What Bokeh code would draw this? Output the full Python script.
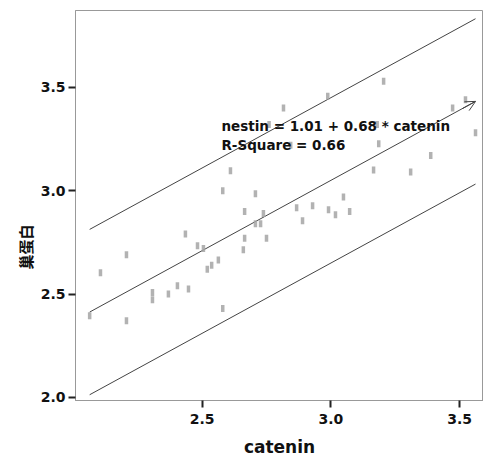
from bokeh.plotting import figure
from bokeh.models import Range1d, Label, Title, Arrow, OpenHead, FixedTicker, PrintfTickFormatter
from bokeh.embed import file_html
from bokeh.resources import INLINE

catenin = [2.063, 2.105, 2.206, 2.206, 2.307, 2.307, 2.369, 2.404, 2.447, 2.435,
           2.482, 2.505, 2.520, 2.537, 2.563, 2.580, 2.580, 2.610, 2.660, 2.665,
           2.665, 2.707, 2.707, 2.727, 2.738, 2.750, 2.867, 2.890, 2.929, 2.991,
           3.018, 3.049, 3.073, 3.166, 3.186, 3.310, 3.388, 3.562, 2.816, 2.988,
           3.205, 3.473, 3.523, 2.760, 3.180, 2.844]
nestin = [2.395, 2.603, 2.690, 2.371, 2.507, 2.473, 2.500, 2.540, 2.525, 2.790,
          2.734, 2.720, 2.620, 2.640, 2.665, 2.430, 3.000, 3.097, 2.715, 2.770,
          2.900, 2.985, 2.840, 2.840, 2.890, 2.770, 2.918, 2.855, 2.927, 2.908,
          2.884, 2.970, 2.900, 3.100, 3.227, 3.090, 3.170, 3.280, 3.400, 3.457,
          3.530, 3.400, 3.440, 3.320, 3.320, 3.220]

intercept = 1.01
slope = 0.68
r_square = 0.66
interval_half = 0.40

x_ticks = [2.5, 3.0, 3.5]
y_ticks = [2.0, 2.5, 3.0, 3.5]
y_label = "巢蛋白"

x0, x1 = min(catenin), max(catenin)
line_x = [x0, x1]
fit_y = [intercept + slope * v for v in line_x]
upper_y = [v + interval_half for v in fit_y]
lower_y = [v - interval_half for v in fit_y]

p = figure(width=483, height=461, output_backend="svg", toolbar_location=None,
           x_range=Range1d(2.008, 3.593), y_range=Range1d(1.985, 3.872),
           min_border_left=75, min_border_right=0, min_border_top=10, min_border_bottom=61)

p.xgrid.visible = False
p.ygrid.visible = False
p.outline_line_color = "#999999"
p.outline_line_width = 1

for ax in (p.xaxis[0], p.yaxis[0]):
    ax.axis_line_color = "#999999"
    ax.major_tick_line_color = "#222222"
    ax.major_tick_line_width = 2
    ax.major_tick_out = 7
    ax.major_tick_in = 0
    ax.minor_tick_line_color = None
    ax.major_label_text_font = "DejaVu Sans"
    ax.major_label_text_font_style = "bold"
    ax.major_label_text_font_size = "14px"
    ax.major_label_text_color = "#111111"
    ax.formatter = PrintfTickFormatter(format="%.1f")

p.xaxis.ticker = FixedTicker(ticks=x_ticks)
p.yaxis.ticker = FixedTicker(ticks=y_ticks)
p.xaxis.major_label_standoff = 6
p.yaxis.major_label_standoff = 3

p.xaxis.axis_label = "catenin"
p.xaxis.axis_label_text_font = "DejaVu Sans"
p.xaxis.axis_label_text_font_style = "bold"
p.xaxis.axis_label_text_font_size = "17px"
p.xaxis.axis_label_standoff = 10
p.xaxis.axis_label_text_color = "#111111"

p.add_layout(Title(text=y_label, align="left", offset=131,
                   text_font="Noto Sans CJK SC", text_font_size="15px",
                   text_font_style="bold", text_color="#111111", standoff=4), "left")

p.line(line_x, upper_y, line_color="#444444", line_width=1)
p.line(line_x, lower_y, line_color="#444444", line_width=1)
p.line(line_x, fit_y, line_color="#444444", line_width=1)
p.add_layout(Arrow(end=OpenHead(size=10, line_color="#444444", line_width=1),
                   x_start=line_x[1] - 0.05, y_start=fit_y[1] - 0.05 * slope,
                   x_end=line_x[1], y_end=fit_y[1], line_color="#444444", line_width=1))

p.rect(catenin, nestin, width=3.5, height=7, width_units="screen", height_units="screen",
       fill_color="#a5a5a5", line_color=None, fill_alpha=0.85)

label_text = f"nestin = {intercept:.2f} + {slope:.2f} * catenin\nR-Square = {r_square:.2f}"
p.add_layout(Label(x=2.575, y=3.35, text=label_text, text_baseline="top", text_align="left",
                   text_font="DejaVu Sans", text_font_style="bold", text_font_size="13.5px",
                   text_color="#111111", text_line_height=1.15))

open("out.html", "w").write(file_html(p, INLINE))
